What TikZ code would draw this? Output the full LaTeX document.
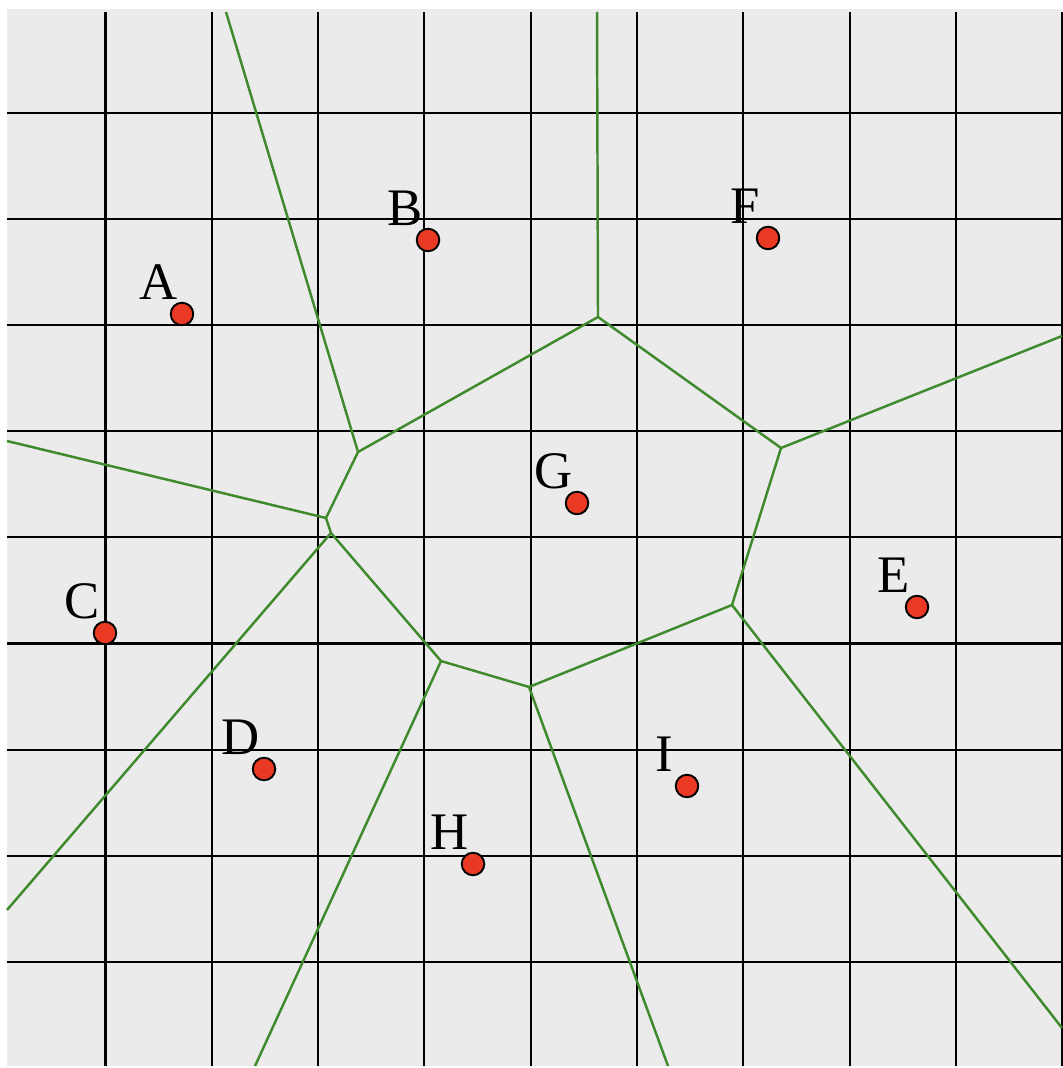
\documentclass[tikz,border=0pt]{standalone}
\usepackage{fontspec}
\setmainfont{Liberation Serif}
\usepackage{tikz}
\usetikzlibrary{calc}
\definecolor{bgPanel}{HTML}{EBEBEB}
\definecolor{edgeGreen}{HTML}{3F8A2C}
\definecolor{siteRed}{HTML}{EA3A24}

\begin{document}
\begin{tikzpicture}[
      x=0.01cm, y=-0.01cm,
      gridline/.style={draw=black, line width=0.6pt},
      celledge/.style={draw=edgeGreen, line width=0.7pt},
      site/.style={circle, fill=siteRed, draw=black, line width=0.55pt, inner sep=0pt, minimum size=0.225cm},
      sitelbl/.style={inner sep=0pt, font=\fontsize{15pt}{16pt}\selectfont}
    ]
      \useasboundingbox (0,0) rectangle (1062,1068);
      \fill[bgPanel] (7,9) rectangle (1062,1066);

      % grid
      \foreach \i in {0,...,9}
        \draw[gridline] ({105.5+106.3*\i},12) -- ({105.5+106.3*\i},1066);
      \foreach \j in {0,...,8}
        \draw[gridline] (7,{113+106.1*\j}) -- (1062,{113+106.1*\j});

      % voronoi vertices
      \coordinate (v1) at (358,452);
      \coordinate (v2) at (598,317);
      \coordinate (v3) at (781,448);
      \coordinate (v4) at (732,605);
      \coordinate (v5) at (529,687);
      \coordinate (v6) at (441,661);
      \coordinate (v7) at (326,518);
      \coordinate (v8) at (331,533);
      % open ends
      \coordinate (eTop1) at (226,12);
      \coordinate (eTop2) at (597,12);
      \coordinate (eRight1) at (1062,336);
      \coordinate (eRight2) at (1062,1028);
      \coordinate (eBot1) at (668,1066);
      \coordinate (eBot2) at (255,1066);
      \coordinate (eLeft1) at (7,910);
      \coordinate (eLeft2) at (7,441);

      \draw[celledge] (eTop1) -- (v1) -- (v2) -- (v3) -- (v4) -- (v5) -- (v6) -- (v8) -- (v7) -- (v1);
      \draw[celledge] (eTop2) -- (v2);
      \draw[celledge] (v3) -- (eRight1);
      \draw[celledge] (v4) -- (eRight2);
      \draw[celledge] (v5) -- (eBot1);
      \draw[celledge] (v6) -- (eBot2);
      \draw[celledge] (v8) -- (eLeft1);
      \draw[celledge] (v7) -- (eLeft2);

      % sites
      \foreach \name/\px/\py in {A/182/314, B/428/240, F/768/238, G/577/503, E/917/607, C/105/633, D/264/769, I/687/786, H/473/864} {
        \node[site] (\name) at (\px,\py) {};
        \node[sitelbl] (\name-lbl) at ($(\name)+(-23,-32)$) {\name};
      }
    \end{tikzpicture}
\end{document}
